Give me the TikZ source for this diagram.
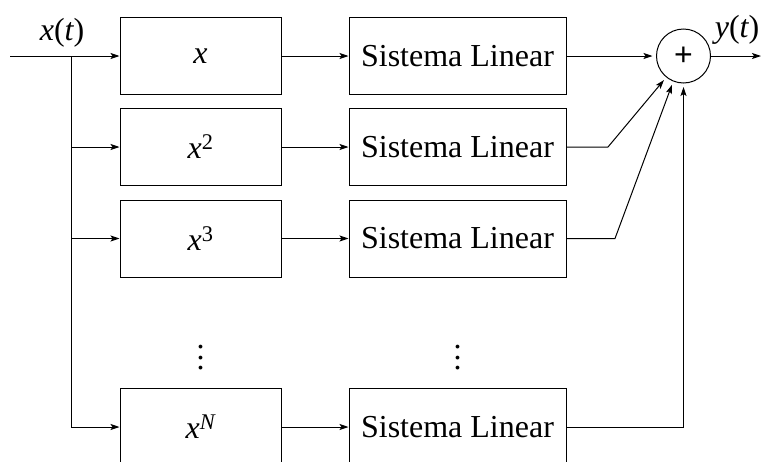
\documentclass[tikz,border=0pt]{standalone}
\usepackage{fontspec}
\setmainfont{Liberation Serif}
\newfontfamily\plusfont{Liberation Sans}
\usetikzlibrary{arrows.meta}
% vertical ellipsis sized for the large text
\newcommand{\bigvdots}{\vbox{\baselineskip=10.5pt\lineskiplimit=-100pt\hbox{.}\hbox{.}\hbox{.}}}
\begin{document}
\begin{tikzpicture}[x=1pt,y=-1pt,
  every node/.style={font=\fontsize{32}{38}\selectfont},
  block/.style={draw,line width=1pt,minimum height=77pt,inner sep=0pt},
  powbox/.style={block,minimum width=161pt},
  linbox/.style={block,minimum width=217pt},
  sumnode/.style={draw,line width=1pt,circle,minimum size=54pt,inner sep=0pt,outer sep=0pt},
  wire/.style={line width=1pt},
  arr/.style={wire,-{Stealth[length=9pt,width=6pt,inset=2pt]}}]
\clip (0,0) rectangle (761,461);

% nonlinear blocks
\node[powbox] (p1) at (200.5,56) {\itshape x};
\node[powbox] (p2) at (200.5,147) {\itshape x\textsuperscript{\upshape 2}};
\node[powbox] (p3) at (200.5,238.5) {\itshape x\textsuperscript{\upshape 3}};
\node[powbox] (pN) at (200.5,427) {\itshape x\textsuperscript{N}};
\node (d1) at (200.5,358) {\bigvdots};

% linear systems
\node[linbox] (l1) at (457.5,56) {Sistema Linear};
\node[linbox] (l2) at (457.5,147) {Sistema Linear};
\node[linbox] (l3) at (457.5,238.5) {Sistema Linear};
\node[linbox] (lN) at (457.5,427) {Sistema Linear};
\node (d2) at (457.5,358) {\bigvdots};

% summing junction
\node[sumnode] (sum) at (683.5,56) {\plusfont +};

% input and output
\coordinate (in) at (10,56);
\coordinate (split) at (71,56);
\coordinate (out) at (761,56);
\node (xl) at (62,33) {\itshape x\upshape(\itshape t\upshape)};
\node (yl) at (737,30) {\itshape y\upshape(\itshape t\upshape)};

\draw[arr] (in) -- (p1);
\draw[wire] (split) -- (71,427);
\draw[arr] (split) |- (p2);
\draw[arr] (split) |- (p3);
\draw[arr] (split) |- (pN);

\draw[arr] (p1) -- (l1);
\draw[arr] (p2) -- (l2);
\draw[arr] (p3) -- (l3);
\draw[arr] (pN) -- (lN);

\draw[arr,shorten >=4pt] (l1) -- (sum);
\draw[arr,shorten >=4pt] (l2.east) -- (608,147) -- (sum.-129);
\draw[arr,shorten >=4pt] (l3.east) -- (615,238.5) -- (sum.-112);
\draw[arr,shorten >=4pt] (lN.east) -| (sum.south);
\draw[arr] (sum) -- (out);
\end{tikzpicture}
\end{document}
